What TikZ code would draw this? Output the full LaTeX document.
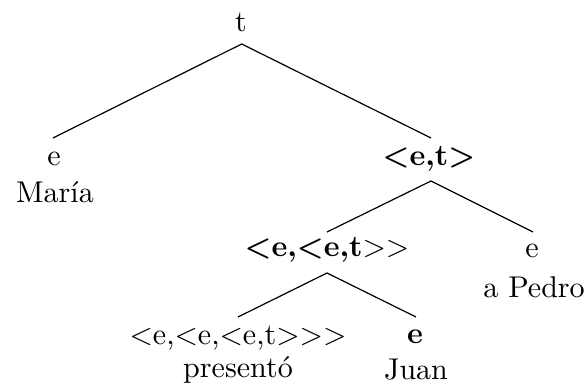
\documentclass[tikz,border=0pt]{standalone}
\newcommand{\blt}{{\boldmath$<$}}
\newcommand{\bgt}{{\boldmath$>$}}
\begin{document}
\begin{tikzpicture}[x=0.333pt,y=-0.333pt,
  lbl/.style={anchor=base, inner sep=0pt},
  edge/.style={line width=0.4pt}]
\useasboundingbox (0,0) rectangle (588,390);
% labels
\node[lbl] (t) at (241,32) {t};
\node[lbl] (e1) at (54,166) {e};
\node[lbl] (maria) at (55,203) {María};
\node[lbl] (et) at (429,166) {\blt\textbf{e,t}\bgt};
\node[lbl] (eet) at (327,257) {\blt\textbf{e,}\blt\textbf{e,t}$>$$>$};
\node[lbl] (e2) at (532,258) {e};
\node[lbl] (pedro) at (534,298) {a Pedro};
\node[lbl] (eeet) at (238,345) {$<$e,$<$e,$<$e,t$>$$>$$>$};
\node[lbl] (presento) at (238,378) {presentó};
\node[lbl] (e3) at (415,344) {\textbf{e}};
\node[lbl] (juan) at (416,380) {Juan};
% connector ends
\coordinate (t-b) at (241.7,44);
\coordinate (e1-t) at (53,138);
\coordinate (et-t) at (431,138);
\coordinate (et-b) at (431,181);
\coordinate (eet-t) at (327,232);
\coordinate (e2-t) at (533,232);
\coordinate (eet-b) at (327,273);
\coordinate (eeet-t) at (238,317);
\coordinate (e3-t) at (416,317);
\draw[edge] (e1-t) -- (t-b) -- (et-t);
\draw[edge] (eet-t) -- (et-b) -- (e2-t);
\draw[edge] (eeet-t) -- (eet-b) -- (e3-t);
\end{tikzpicture}
\end{document}
